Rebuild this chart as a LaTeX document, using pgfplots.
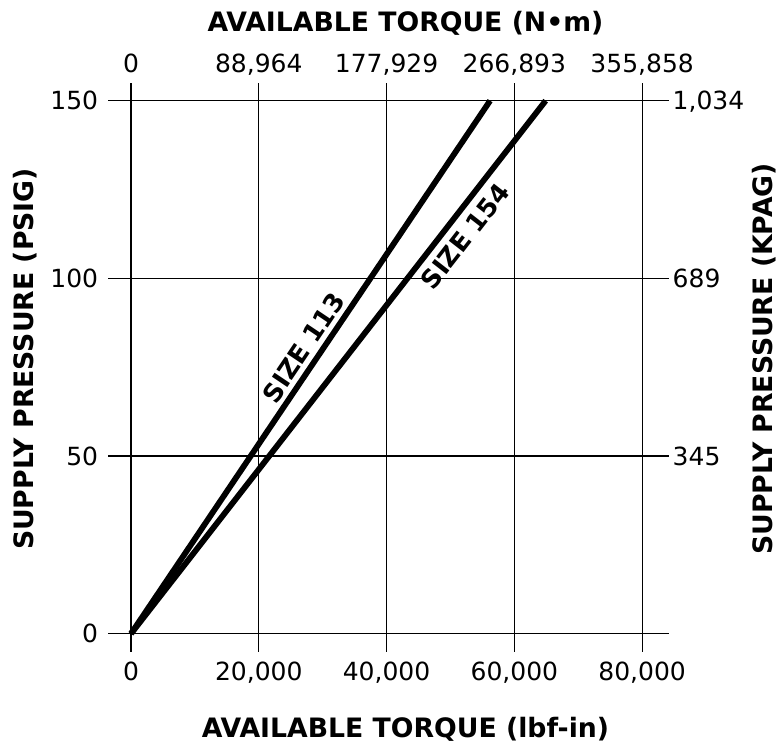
\documentclass[border=0pt]{standalone}
\usepackage{fontspec}
\setmainfont{DejaVu Sans}
\usepackage{pgfplots}
\pgfplotsset{compat=1.18}

\begin{document}
\begin{tikzpicture}
\useasboundingbox (0,0) rectangle (778pt,743pt);

% common geometry for both axes
\pgfplotsset{
  torque/.style={
    scale only axis,
    width=561pt, height=568.4pt,
    at={(108pt,91.3pt)}, anchor=south west,
    xmin=-3600, xmax=84200,
    ymin=-5.07, ymax=154.9,
    scaled x ticks=false, scaled y ticks=false,
    axis line style={draw=none},
    major tick length=0pt,
    clip=false,
    ticklabel style={font=\fontsize{25}{30}\selectfont, inner sep=0pt},
  },
}
\tikzset{axtitle/.style={font=\bfseries\fontsize{26.7}{32}\selectfont, inner sep=0pt}}

% bottom / left
\begin{axis}[torque,
    xtick={0,20000,40000,60000,80000},
    xticklabels={0,{20,000},{40,000},{60,000},{80,000}},
    ytick={0,50,100,150},
    yticklabels={0,50,100,150},
    xticklabel style={anchor=base, yshift=-29.3pt},
    yticklabel style={anchor=base east, xshift=-9.7pt, yshift=-9.1pt},
    grid=major,
    major grid style={black, line width=1.2pt},
  ]
  % SIZE 113
  \addplot[black, line width=5.8pt] coordinates {(0,0) (56200,150)};
  % SIZE 154
  \addplot[black, line width=5.8pt] coordinates {(0,0) (64900,150)};

  \node[rotate=56.1, font=\bfseries\fontsize{25.5}{30}\selectfont]
    at (axis cs:27000,80.5) {SIZE 113};
  \node[rotate=52.1, font=\bfseries\fontsize{25.5}{30}\selectfont]
    at (axis cs:52300,111.9) {SIZE 154};
\end{axis}

% top / right
\begin{axis}[torque,
    xticklabel pos=upper, yticklabel pos=right,
    xtick={0,20000,40000,60000,80000},
    xticklabels={0,{88,964},{177,929},{266,893},{355,858}},
    ytick={50,100,150},
    yticklabels={345,689,{1,034}},
    xticklabel style={anchor=base, yshift=10.3pt},
    yticklabel style={anchor=base west, xshift=3.5pt, yshift=-9.1pt},
  ]
  \addplot[draw=none, forget plot] coordinates {(0,0)};
\end{axis}

% axis titles
\node[axtitle, anchor=base] at (405.5pt,711pt) {AVAILABLE TORQUE (N•m)};
\node[axtitle, anchor=base] at (405.5pt,5pt) {AVAILABLE TORQUE (lbf-in)};
\node[axtitle, rotate=90] at (25pt,384pt) {SUPPLY PRESSURE (PSIG)};
\node[axtitle, rotate=90] at (764.5pt,384pt) {SUPPLY PRESSURE (KPAG)};
\end{tikzpicture}
\end{document}
